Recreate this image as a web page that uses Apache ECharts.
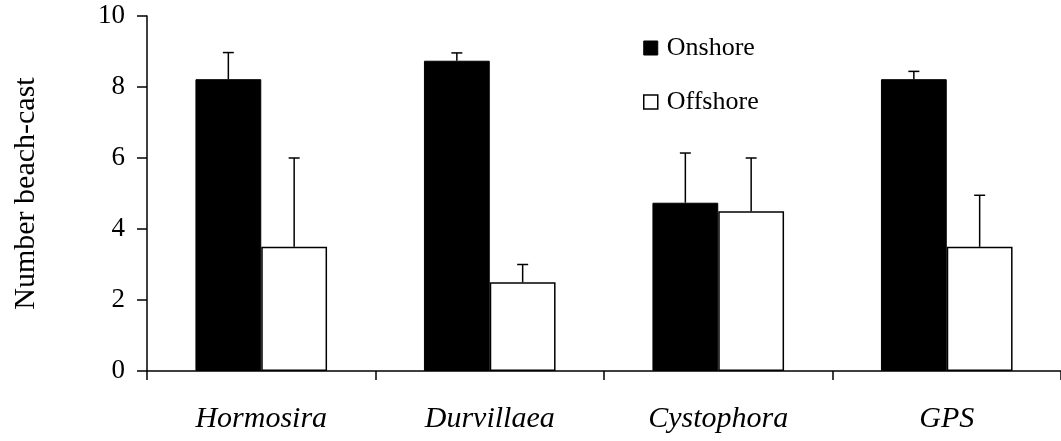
<!DOCTYPE html>
<html>
<head>
<meta charset="utf-8">
<script src="https://cdn.jsdelivr.net/npm/echarts@6/dist/echarts.min.js"></script>
<style>
html,body{margin:0;padding:0;background:#fff;}
#chart{width:1061px;height:441px;}
</style>
</head>
<body>
<div id="chart"></div>
<script>
var categories = ['Hormosira', 'Durvillaea', 'Cystophora', 'GPS'];
var onshore = [8.22, 8.74, 4.74, 8.22];
var onshoreErr = [0.75, 0.22, 1.4, 0.22];
var offshore = [3.5, 2.5, 4.5, 3.5];
var offshoreErr = [2.5, 0.5, 1.5, 1.45];
var yTicks = [0, 2, 4, 6, 8, 10];

var FONT = "'Liberation Serif', 'Times New Roman', serif";
var BAR_FRAC = 0.288;

function errData(vals, errs) {
  return vals.map(function (v, i) { return [i, v, v + errs[i]]; });
}
function errRender(side) {
  return function (params, api) {
    var band = api.size([1, 0])[0];
    var bw = band * BAR_FRAC;
    var base = api.coord([api.value(0), api.value(1)]);
    var top = api.coord([api.value(0), api.value(2)]);
    var x = base[0] + side * bw / 2;
    var cap = 5.5;
    return {
      type: 'group',
      children: [
        { type: 'line', shape: { x1: x, y1: base[1], x2: x, y2: top[1] }, style: { stroke: '#000', lineWidth: 1.5 } },
        { type: 'line', shape: { x1: x - cap, y1: top[1], x2: x + cap, y2: top[1] }, style: { stroke: '#000', lineWidth: 1.5 } }
      ]
    };
  };
}

var chart = echarts.init(document.getElementById('chart'), null, { renderer: 'canvas' });
chart.setOption({
  animation: false,
  backgroundColor: '#fff',
  grid: { left: 147, right: -4, top: 16, bottom: 70, containLabel: false },
  legend: {
    orient: 'vertical',
    left: 638,
    top: 30,
    itemGap: 28,
    itemWidth: 14,
    itemHeight: 14,
    icon: 'rect',
    textStyle: { fontFamily: FONT, fontSize: 26, color: '#000', padding: [0, 0, 0, 4] },
    data: [
      { name: 'Onshore', itemStyle: { color: '#000', borderColor: '#000', borderWidth: 1 } },
      { name: 'Offshore', itemStyle: { color: '#fff', borderColor: '#000', borderWidth: 1.5 } }
    ]
  },
  xAxis: {
    type: 'category',
    data: categories,
    axisLine: { lineStyle: { color: '#000', width: 1.5 } },
    axisTick: { show: true, length: 9, lineStyle: { color: '#000', width: 1.5 } },
    axisLabel: { fontFamily: FONT, fontStyle: 'italic', fontSize: 30, color: '#000', margin: 33 }
  },
  yAxis: {
    type: 'value',
    min: 0, max: 10, interval: 2,
    name: 'Number beach-cast',
    nameLocation: 'middle',
    nameRotate: 90,
    nameGap: 106,
    nameTextStyle: { fontFamily: FONT, fontSize: 30, color: '#000' },
    axisLine: { show: true, lineStyle: { color: '#000', width: 1.5 } },
    axisTick: { show: true, length: 10, lineStyle: { color: '#000', width: 1.5 } },
    splitLine: { show: false },
    axisLabel: { fontFamily: FONT, fontSize: 27, color: '#000', margin: 22,
      formatter: function (v) { return yTicks.indexOf(v) >= 0 ? String(v) : ''; } }
  },
  series: [
    {
      name: 'Onshore', type: 'bar', data: onshore, barWidth: (BAR_FRAC * 100) + '%', barGap: '0%',
      itemStyle: { color: '#000', borderColor: '#000', borderWidth: 1 }
    },
    {
      name: 'Offshore', type: 'bar', data: offshore, barWidth: (BAR_FRAC * 100) + '%', barGap: '0%',
      itemStyle: { color: '#fff', borderColor: '#000', borderWidth: 1.5 }
    },
    {
      type: 'custom', name: 'onErr', data: errData(onshore, onshoreErr), renderItem: errRender(-1), z: 5,
      encode: { x: 0, y: [1, 2] }
    },
    {
      type: 'custom', name: 'offErr', data: errData(offshore, offshoreErr), renderItem: errRender(1), z: 5,
      encode: { x: 0, y: [1, 2] }
    }
  ]
});
</script>
</body>
</html>
